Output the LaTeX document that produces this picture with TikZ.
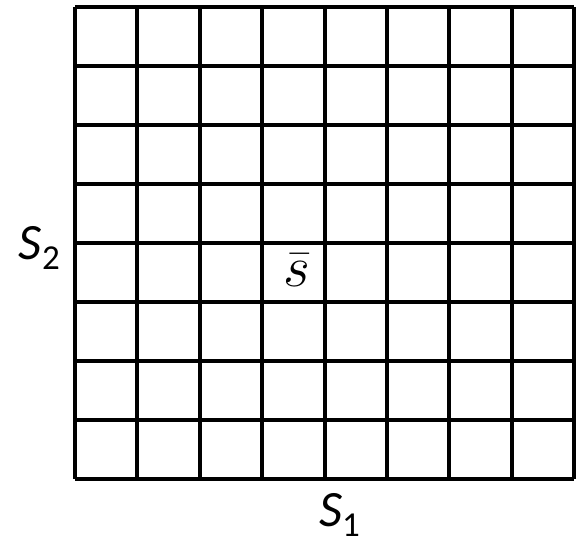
\documentclass[tikz,border=0pt]{standalone}
\usepackage{fix-cm}
\usepackage{fontspec}
\newfontfamily\labelfont{Carlito}
\usetikzlibrary{positioning}

\newcommand{\axislabel}[1]{{\labelfont\fontsize{51}{51}\selectfont\itshape S}{\labelfont\fontsize{35}{35}\selectfont\raisebox{-0.28em}{#1}}}

\begin{document}
\begin{tikzpicture}[x=1pt, y=1pt, line width=4pt,
	every node/.style={inner sep=0pt}]
	\useasboundingbox (0,0) rectangle (576,543);
	% grid of 8 x 8 cells
	\foreach \i in {0,...,8} {
		\draw (75+\i*62.375,64) -- (75+\i*62.375,536);
		\draw (75,64+\i*59) -- (574,64+\i*59);
	}
	\node (s2) [anchor=base west] at (17,283) {\axislabel{2}};
	\node (s1) [anchor=base west] at (317,16) {\axislabel{1}};
	\node (sbar) [anchor=base] at (297,256) {\fontsize{58}{58}\selectfont$\bar{s}$};
\end{tikzpicture}
\end{document}
